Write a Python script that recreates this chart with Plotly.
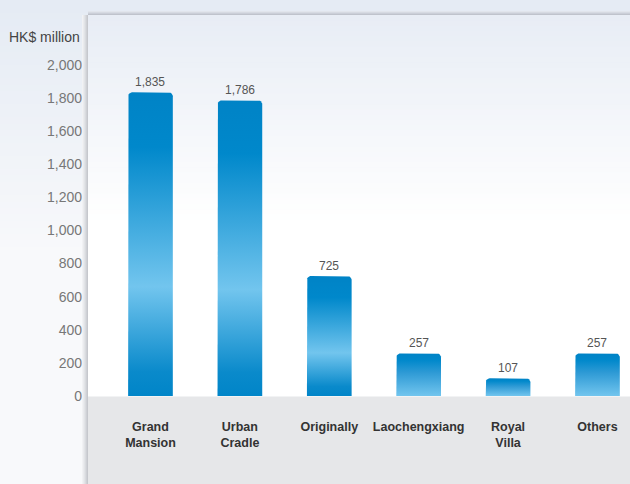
import numpy as np
import plotly.graph_objects as go

# ---- data ----
categories = ["Grand<br>Mansion", "Urban<br>Cradle", "Originally", "Laochengxiang", "Royal<br>Villa", "Others"]
values = [1835, 1786, 725, 257, 107, 257]
value_labels = ["1,835", "1,786", "725", "257", "107", "257"]
y_ticks = [0, 200, 400, 600, 800, 1000, 1200, 1400, 1600, 1800, 2000]
y_title = "HK$ million"

# ---- geometry / style ----
W, H = 630, 484
ML, MR, MT, MB = 88, 0, 15, 88
PW, PH = W - ML - MR, H - MT - MB
XR = [-0.699, 5.364]
YR = [0, 2302]
HALF = 0.25
px_x = PW / (XR[1] - XR[0])
px_y = PH / (YR[1] - YR[0])
RX, RY = 4 / px_x, 4 / px_y

TALL_SCALE = [[0, "#0085c8"], [0.08, "#0a8acb"], [0.36, "#72c5ee"], [0.82, "#0088cb"], [1, "#0083c6"]]
SHORT_SCALE = [[0, "#72c5ee"], [0.55, "#2e9ad5"], [0.85, "#0088cb"], [1, "#0083c6"]]

def px2paper(px, py):
    return (px - ML) / PW, (H - MB - py) / PH

def hexmix(c1, c2, t):
    a = np.array([int(c1[i:i + 2], 16) for i in (1, 3, 5)])
    b = np.array([int(c2[i:i + 2], 16) for i in (1, 3, 5)])
    c = (a + (b - a) * t).round().astype(int)
    return "#%02x%02x%02x" % tuple(c)

shapes = []
def rect_px(x0, y0, x1, y1, color):
    a0, b1 = px2paper(x0, y0)
    a1, b0 = px2paper(x1, y1)
    shapes.append(dict(type="rect", xref="paper", yref="paper", x0=a0, x1=a1, y0=b0, y1=b1,
                       fillcolor=color, line=dict(width=0), layer="below"))

# page background gradient (left strip and top)
N = 40
for k in range(N):
    y0 = k * 260 / N
    y1 = (k + 1) * 260 / N + 0.5
    t = min(1.0, k / (N - 1))
    rect_px(0, y0, W, y1, hexmix("#e5ebf4", "#f8f9fb", t))
rect_px(0, 260, W, H, "#f8f9fb")

# panel gradient
for k in range(N):
    y0 = 15 + k * 210 / N
    y1 = 15 + (k + 1) * 210 / N + 0.5
    t = k / (N - 1)
    rect_px(88, y0, W, y1, hexmix("#e8edf5", "#ffffff", t))
rect_px(88, 225, W, 397, "#ffffff")
# bottom grey band
rect_px(88, 396.5, W, H, "#e6e7e9")

# shadows
for k, c in enumerate(["#f1f2f4", "#eaebee", "#e2e4e7", "#d9dbdf", "#cfd1d6", "#c6c8cd"]):
    rect_px(82 + k, 15, 83 + k, H, c)
for k, c in enumerate(["#e1e5ec", "#d6dae2", "#cbcfd8", "#bfc3cc"]):
    rect_px(88, 11 + k, W, 12 + k, c)

fig = go.Figure()

theta = np.linspace(0, np.pi / 2, 8)
for i, v in enumerate(values):
    xl, xr = i - HALF, i + HALF
    xs = [xl, xl]
    ys = [0, v - RY]
    xs += list(xl + RX - RX * np.cos(theta))
    ys += list(v - RY + RY * np.sin(theta))
    xs += list(xr - RX + RX * np.sin(theta))
    ys += list(v - RY + RY * np.cos(theta))
    xs += [xr, xr, xl]
    ys += [v - RY, 0, 0]
    fig.add_trace(go.Scatter(
        x=xs, y=ys, mode="lines", fill="toself",
        line=dict(width=0, color="rgba(0,0,0,0)"),
        fillgradient=dict(type="vertical", start=0, stop=v,
                          colorscale=TALL_SCALE if v > 500 else SHORT_SCALE),
        hoverinfo="skip", showlegend=False))

annotations = []
for i, (v, lab) in enumerate(zip(values, value_labels)):
    annotations.append(dict(x=i, y=v, text=lab, showarrow=False, yanchor="bottom", yshift=1,
                            font=dict(family="Liberation Sans, Arial", size=12, color="#555555")))
annotations.append(dict(xref="paper", yref="paper", x=px2paper(82, 0)[0], y=px2paper(0, 37)[1],
                        xanchor="right", yanchor="middle", text=y_title, showarrow=False,
                        font=dict(family="Liberation Sans, Arial", size=14, color="#444444")))

fig.update_layout(
    width=W, height=H,
    margin=dict(l=ML, r=MR, t=MT, b=MB, pad=0),
    paper_bgcolor="#f8f9fb", plot_bgcolor="rgba(0,0,0,0)",
    shapes=shapes, annotations=annotations,
    xaxis=dict(range=XR, tickvals=list(range(len(categories))), ticktext=categories,
               showgrid=False, zeroline=False, showline=False, ticks="",
               ticklabelstandoff=21,
               tickfont=dict(family="Liberation Sans, Arial", size=12.5, color="#333333", weight="bold")),
    yaxis=dict(range=YR, tickvals=y_ticks, tickformat=",", showgrid=False, zeroline=False,
               showline=False, ticks="", ticklabelstandoff=5,
               tickfont=dict(family="Liberation Sans, Arial", size=14, color="#777777")),
    showlegend=False,
)

fig.write_html("out.html")
